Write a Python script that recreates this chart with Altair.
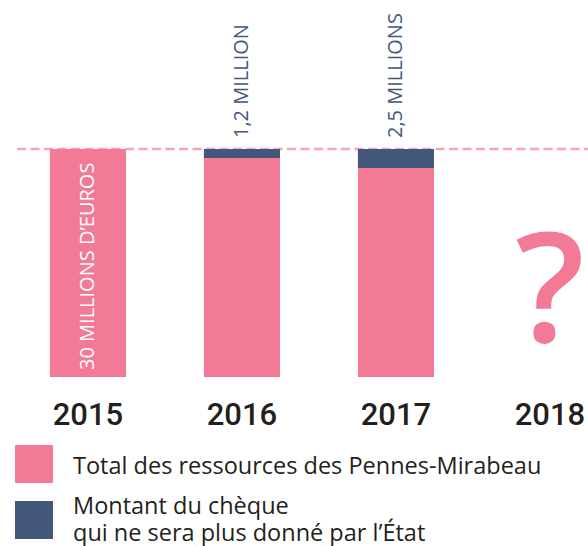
import altair as alt
import pandas as pd

# ---- data ----
years = ["2015", "2016", "2017", "2018"]
total = [30.0, 28.8, 27.5, None]          # pink part (millions €)
cheque = [0.0, 1.2, 2.5, None]            # navy part (millions €)
series = [
    "Total des ressources des Pennes-Mirabeau",
    "Montant du chèque\nqui ne sera plus donné par l’État",
]
annotations = ["30 MILLIONS D’EUROS", "1,2 MILLION", "2,5 MILLIONS", "?"]
reference_level = 30.0

PINK = "#F37A96"
NAVY = "#43577A"
DASH = "#F5A6B7"
INK = "#231F20"
FONT = "Open Sans"

rows = []
for y, t, c in zip(years, total, cheque):
    if t is not None:
        rows.append({"year": y, "series": series[0], "value": t, "ord": 0})
    if c:
        rows.append({"year": y, "series": series[1], "value": c, "ord": 1})
bars_df = pd.DataFrame(rows)

ann_df = pd.DataFrame({
    "year": years,
    "label": annotations,
    "top": [(t or 0) + (c or 0) for t, c in zip(total, cheque)],
    "kind": ["inside", "above", "above", "question"],
})

legend_df = pd.DataFrame({"series": series, "idx": [0, 1]})

xscale = alt.Scale(domain=years, paddingInner=0.506, paddingOuter=0.162, align=1)
yscale = alt.Scale(domain=[0, 30])
cscale = alt.Scale(domain=series, range=[PINK, NAVY])

base_x = alt.X("year:N", scale=xscale, sort=years,
               axis=alt.Axis(title=None, labelAngle=0, domain=False, ticks=False,
                             tickSize=0, grid=False, labelFontSize=31,
                             labelFontWeight=500,
                             labelFont="Roboto", labelColor=INK, labelPadding=23))

rule = alt.Chart(pd.DataFrame({"level": [reference_level]})).mark_rule(
    color=DASH, strokeWidth=2.5, strokeDash=[9, 4.5]
).encode(
    y=alt.Y("level:Q", scale=yscale, axis=None),
    x=alt.value(17),
    x2=alt.value(588),
)

bars = alt.Chart(bars_df).mark_bar().encode(
    x=base_x,
    y=alt.Y("value:Q", stack="zero", scale=yscale, axis=None),
    color=alt.Color("series:N", scale=cscale, legend=None),
    order=alt.Order("ord:Q", sort="ascending"),
)

inside = alt.Chart(ann_df).transform_filter(alt.datum.kind == "inside").mark_text(
    angle=270, align="left", baseline="middle", dx=7,
    fontSize=20, font=FONT, color="white",
).encode(x=base_x, y=alt.datum(0), text="label:N")

above = alt.Chart(ann_df).transform_filter(alt.datum.kind == "above").mark_text(
    angle=270, align="left", baseline="middle", dx=11,
    fontSize=20, font=FONT, color=NAVY,
).encode(x=base_x, y=alt.Y("top:Q", scale=yscale), text="label:N")

question = alt.Chart(ann_df).transform_filter(alt.datum.kind == "question").mark_text(
    align="center", baseline="alphabetic", dy=-35,
    fontSize=153, font=FONT, fontWeight=600, color=PINK,
).encode(x=base_x, y=alt.datum(0), text="label:N")

main = alt.layer(rule, bars, inside, above, question)

# ---- legend (drawn as marks so the two-line entry can be centred) ----
ly = alt.Y("series:N", sort=series, axis=None,
           scale=alt.Scale(type="point", domain=series, range=[315, 371], padding=0))

leg_sq = alt.Chart(legend_df).mark_square(size=1444, opacity=1, strokeWidth=0).encode(
    x=alt.value(34), y=ly,
    color=alt.Color("series:N", scale=cscale, legend=None),
)
leg_t1 = alt.Chart(legend_df).transform_filter(alt.datum.idx == 0).mark_text(
    align="left", baseline="middle", dy=3, fontSize=23.5, font=FONT, color=INK,
).encode(x=alt.value(73), y=ly, text="series:N")
leg_t2 = alt.Chart(legend_df).transform_filter(alt.datum.idx == 1).mark_text(
    align="left", baseline="middle", dy=-13.5, fontSize=23.5, font=FONT, color=INK,
    lineBreak="\n", lineHeight=27,
).encode(x=alt.value(73), y=ly, text="series:N")

legend = alt.layer(leg_sq, leg_t1, leg_t2)

chart = alt.layer(main, legend).resolve_scale(y="independent").properties(
    width=588, height=228,
    autosize=alt.AutoSizeParams(type="none"),
    padding={"left": 0, "top": 149, "right": 0, "bottom": 169},
).configure_view(strokeWidth=0)

chart.save("out.html", embed_options={"renderer": "svg", "actions": False})
